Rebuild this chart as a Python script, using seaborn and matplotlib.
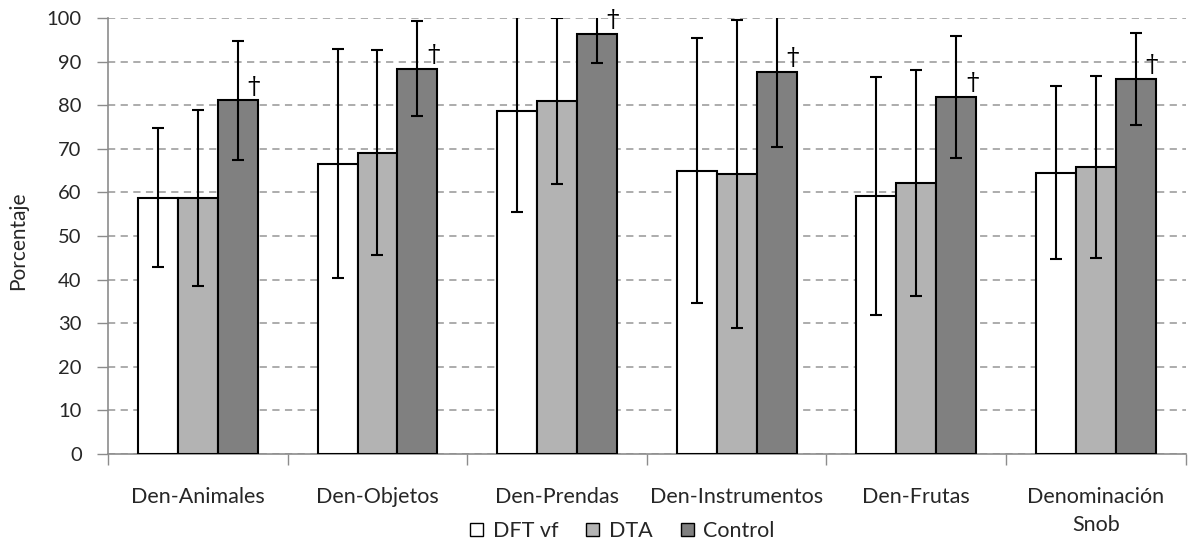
import matplotlib
matplotlib.use("Agg")
import matplotlib.pyplot as plt
import seaborn as sns
import pandas as pd
import numpy as np
from matplotlib.patches import Patch

categories = ["Den-Animales", "Den-Objetos", "Den-Prendas", "Den-Instrumentos",
              "Den-Frutas", "Denominación\nSnob"]
groups = ["DFT vf", "DTA", "Control"]

dft_mean = [58.8, 66.6, 78.6, 65.0, 59.1, 64.5]
dft_sd = [16.0, 26.3, 23.0, 30.4, 27.3, 19.8]
dta_mean = [58.8, 69.1, 81.0, 64.2, 62.1, 65.8]
dta_sd = [20.2, 23.5, 19.0, 35.3, 25.9, 20.9]
ctl_mean = [81.1, 88.4, 96.3, 87.7, 81.9, 86.0]
ctl_sd = [13.6, 10.9, 6.6, 17.3, 14.0, 10.5]

colors = ["#FFFFFF", "#B3B3B3", "#808080"]
font = "Lato"

sns.set_theme(style="white")
plt.rcParams["font.family"] = [font, "DejaVu Sans"]

df = pd.DataFrame({
    "cat": categories * 3,
    "grupo": [g for g in groups for _ in categories],
    "valor": dft_mean + dta_mean + ctl_mean,
})
sds = {"DFT vf": dft_sd, "DTA": dta_sd, "Control": ctl_sd}

fig = plt.figure(figsize=(11.88, 5.52), dpi=100)
ax = fig.add_axes([0.091, 0.1775, 0.907, 0.79])

sns.barplot(data=df, x="cat", y="valor", hue="grupo", order=categories,
            hue_order=groups, palette=colors, errorbar=None, width=0.667,
            edgecolor="black", linewidth=1.5, saturation=1, ax=ax, zorder=3)

for cont, g in zip(ax.containers, groups):
    xs = [b.get_x() + b.get_width() / 2 for b in cont]
    ys = [b.get_height() for b in cont]
    ax.errorbar(xs, ys, yerr=sds[g], fmt="none", ecolor="black",
                elinewidth=1.5, capsize=4, capthick=1.5, zorder=4)
    if g == "Control":
        for b in cont:
            ax.text(b.get_x() + b.get_width() * 0.9, b.get_height() + 0.4, "†",
                    ha="center", va="bottom", fontsize=18, color="black",
                    family=["DejaVu Serif"], zorder=5, clip_on=False)

ax.set_ylim(0, 100)
ax.set_xlim(-0.5, len(categories) - 0.5)
ax.set_yticks(np.arange(0, 101, 10))
ax.yaxis.grid(True, linestyle=(0, (4, 3)), color="#A6A6A6", linewidth=1.3, zorder=0)
ax.set_axisbelow(True)
ax.set_xlabel("")
ax.set_ylabel("Porcentaje", fontsize=15)
ax.yaxis.set_label_coords(-0.074, 0.49)
ax.tick_params(axis="y", labelsize=14.5, length=8, width=1, color="#8C8C8C",
               direction="out", left=True, pad=11)
ax.tick_params(axis="x", labelsize=15.5, length=0, pad=24)
for lbl in ax.get_xticklabels():
    lbl.set_linespacing(1.5)
ax.set_xticks(np.arange(-0.5, len(categories), 1.0), minor=True)
ax.tick_params(axis="x", which="minor", length=8, width=1, color="#8C8C8C",
               direction="out", bottom=True)
for side in ["top", "right"]:
    ax.spines[side].set_visible(False)
for side in ["left", "bottom"]:
    ax.spines[side].set_color("#8C8C8C")
    ax.spines[side].set_linewidth(1.2)

ax.get_legend().remove()
handles = [Patch(facecolor=c, edgecolor="black", linewidth=1) for c in colors]
fig.legend(handles, groups, loc="center", bbox_to_anchor=(0.524, 0.038),
           ncol=3, frameon=False, fontsize=15.5, handlelength=0.6, handleheight=0.6,
           handletextpad=0.45, columnspacing=1.3)

fig.savefig("out.png", dpi=100)
